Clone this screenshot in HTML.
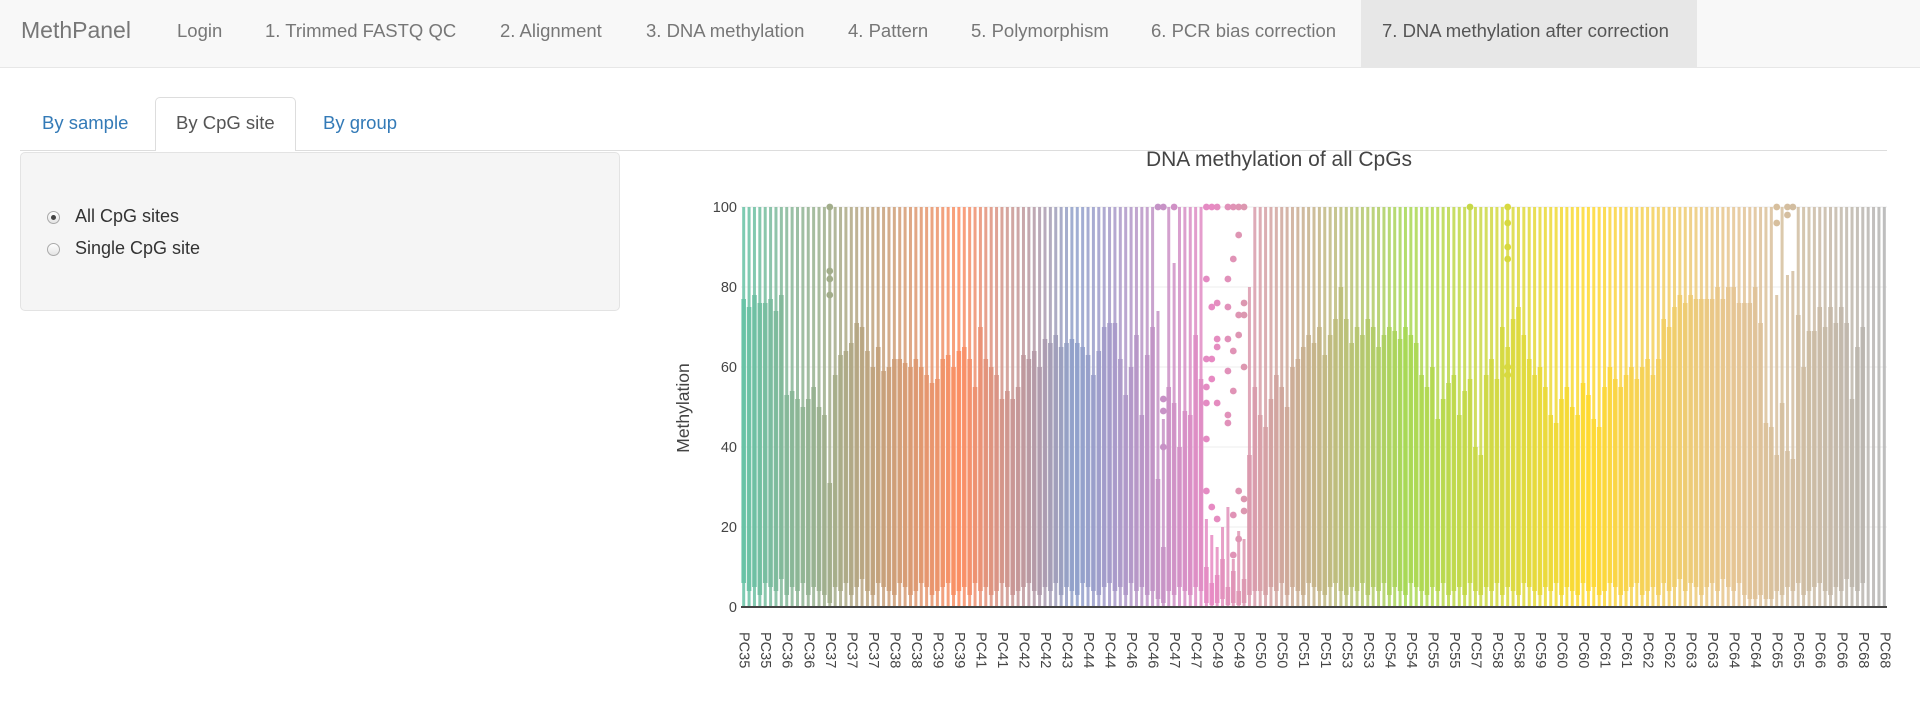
<!DOCTYPE html>
<html><head><meta charset="utf-8">
<style>
body{margin:0;width:1920px;height:702px;overflow:hidden;background:#fff;font-family:"Liberation Sans",Arial,sans-serif;position:relative}
.nav{position:absolute;left:0;top:0;width:1920px;height:67px;background:#f8f8f8;border-bottom:1px solid #e7e7e7}
.nav span{position:absolute;top:20px;font-size:18.5px;color:#777;white-space:nowrap}
.brand{font-size:23px!important;top:17px!important}
.active{position:absolute;left:1361px;top:0;width:336px;height:67px;background:#e7e7e7}
.tabline{position:absolute;left:20px;top:150px;width:1867px;height:1px;background:#ddd}
.tab{position:absolute;top:112px;font-size:18.5px;color:#337ab7}
.tabact{position:absolute;left:155px;top:97px;width:141px;height:54px;background:#fff;border:1px solid #ddd;border-bottom:none;border-radius:5px 5px 0 0;box-sizing:border-box}
.well{position:absolute;left:20px;top:152px;width:600px;height:159px;background:#f5f5f5;border:1px solid #e3e3e3;border-radius:5px;box-sizing:border-box}
.radio{position:absolute;width:13px;height:13px;border-radius:50%;border:1px solid #aaa;background:linear-gradient(#fff,#e4e4e4);box-sizing:border-box}
.rlabel{position:absolute;font-size:18px;color:#333}
</style></head><body>
<div class="nav">
<div class="active"></div>
<span class="brand" style="left:21px">MethPanel</span>
<span style="left:177px">Login</span>
<span style="left:265px">1. Trimmed FASTQ QC</span>
<span style="left:500px">2. Alignment</span>
<span style="left:646px">3. DNA methylation</span>
<span style="left:848px">4. Pattern</span>
<span style="left:971px">5. Polymorphism</span>
<span style="left:1151px">6. PCR bias correction</span>
<span style="left:1382px;color:#555">7. DNA methylation after correction</span>
</div>
<div class="tabline"></div>
<div class="tabact"></div>
<div class="tab" style="left:42px">By sample</div>
<div class="tab" style="left:176px;color:#555">By CpG site</div>
<div class="tab" style="left:323px">By group</div>
<div class="well"></div>
<div class="radio" style="left:47px;top:211px"><div style="position:absolute;left:3px;top:3px;width:5px;height:5px;border-radius:50%;background:#444"></div></div>
<div class="rlabel" style="left:75px;top:206px">All CpG sites</div>
<div class="radio" style="left:47px;top:243px"></div>
<div class="rlabel" style="left:75px;top:238px">Single CpG site</div>

<svg id="chart" width="1920" height="702" style="position:absolute;left:0;top:0"></svg>
<script>
const q3 = [77,75,78,76,76,77,74,78,53,54,52,50,52,55,50,48,31,58,63,64,
66,71,70,64,60,65,59,60,62,62,61,60,62,60,58,56,57,62,63,60,
64,65,62,55,70,62,60,58,52,54,52,55,63,62,64,60,67,66,68,65,
66,67,66,65,63,58,64,70,71,
71,62,53,60,68,48,63,70,32,15,55,51,40,49,48,68,57,
10,6,8,12,5,9,4,7,38,55,
48,45,52,58,55,50,60,62,65,68,66,70,63,68,72,80,72,66,70,68,
72,70,65,68,70,69,67,70,68,66,58,55,60,47,52,56,58,48,54,57,
40,38,58,62,57,70,65,72,75,68,62,58,60,55,48,46,52,55,50,48,
56,53,47,45,55,60,57,55,58,60,57,60,62,58,62,72,70,75,78,76,78,77,
77,77,77,80,77,80,80,76,76,76,80,71,46,45,38,51,39,37,73,60,69,69,75,70,75,71,75,71,52,65,70,71,69,72,72];
const q1 = [6,4,5,3,6,5,4,7,3,5,4,6,3,5,4,3,1,5,4,6,
3,5,7,4,3,6,5,4,3,6,5,3,4,6,5,3,4,5,6,3,
4,5,3,6,4,5,3,4,6,5,3,4,5,6,4,3,5,4,6,3,
5,4,3,6,5,4,3,5,6,
4,5,3,6,4,5,3,4,2,1,4,3,5,4,3,5,4,
1,0.5,1,2,0.5,1,0.5,1,3,4,
4,3,5,4,6,3,5,4,3,6,5,4,3,5,6,4,3,5,4,6,
3,5,4,6,3,5,4,3,6,5,4,3,5,4,6,3,4,5,3,6,
4,3,5,4,6,3,5,4,3,6,5,4,3,5,4,6,3,5,4,3,
6,4,5,3,4,6,5,3,4,5,6,3,4,5,3,6,4,5,
7,4,6,5,3,5,6,4,7,5,4,6,3,2,2,3,2,2,4,3,5,4,6,3,4,5,6,4,3,5,4,7,5,4,6];
const whiskerHiExceptions = {77:74,78:47,80:86,86:22,87:18,88:15,89:20,90:25,91:12,92:19,93:17,94:80,192:78,194:83,195:84};
const outliers = [[16,100],[16,84],[16,82],[16,78],[77,100],[78,100],[78,52],[78,49],[78,40],[80,100],
[86,100],[86,82],[86,62],[86,55],[86,51],[86,42],[86,29],
[87,100],[87,75],[87,62],[87,57],[87,25],
[88,100],[88,76],[88,67],[88,65],[88,51],[88,22],
[90,100],[90,82],[90,75],[90,67],[90,59],[90,48],[90,46],
[91,100],[91,87],[91,64],[91,54],[91,23],[91,13],
[92,100],[92,93],[92,73],[92,68],[92,29],[92,17],
[93,100],[93,76],[93,73],[93,60],[93,27],[93,24],
[135,100],[142,100],[142,96],[142,90],[142,87],[142,60],[142,58],
[192,100],[192,96],[194,100],[194,98],[195,100]];
const tickLabels = ["PC35","PC35","PC36","PC36","PC37","PC37","PC37","PC38","PC38","PC39","PC39","PC41","PC41","PC42","PC42","PC43","PC44","PC44","PC46","PC46","PC47","PC47","PC49","PC49","PC50","PC50","PC51","PC51","PC53","PC53","PC54","PC54","PC55","PC55","PC57","PC58","PC58","PC59","PC60","PC60","PC61","PC61","PC62","PC62","PC63","PC63","PC64","PC64","PC65","PC65","PC66","PC66","PC68","PC68"];
const yTicks = [0,20,40,60,80,100];
const tickEvery = 4;

const NS = "http://www.w3.org/2000/svg";
const svg = document.getElementById('chart');
const X0 = 741, X1 = 1887, Y0 = 607, Y100 = 207;
const N = q3.length, slot = (X1 - X0) / N;
const xc = i => X0 + (i + 0.5) * slot;
const y = v => Y0 - (v / 100) * (Y0 - Y100);
const stops = [[0,[102,194,165]],[0.19,[252,141,98]],[0.29,[141,160,203]],[0.41,[231,138,195]],[0.58,[166,216,84]],[0.74,[255,217,47]],[0.87,[229,196,148]],[1,[179,179,179]]];
function color(t){
  for(let k=0;k<stops.length-1;k++){
    const a=stops[k],b=stops[k+1];
    if(t<=b[0]){const f=(t-a[0])/(b[0]-a[0]);return 'rgb('+a[1].map((c,j)=>Math.round(c+(b[1][j]-c)*f)).join(',')+')';}
  }
  return 'rgb(179,179,179)';
}
function mk(tag, attrs){const e=document.createElementNS(NS,tag);for(const k in attrs)e.setAttribute(k,attrs[k]);svg.appendChild(e);return e;}

yTicks.forEach(v=>{
  if(v>0){const g=mk('line',{x1:X0,x2:X1,y1:y(v),y2:y(v),stroke:'#eee','stroke-width':1});
  
  }
  const t=mk('text',{x:737,y:y(v)+5,'text-anchor':'end','font-size':'14.5','fill':'#444','font-family':'Liberation Sans, sans-serif'});
  t.textContent=v;
  
  
});

for(let i=0;i<N;i++){
  const c=color(i/(N-1));
  const hi = (i in whiskerHiExceptions) ? whiskerHiExceptions[i] : 100;
  const w=mk('rect',{x:xc(i)-1.5,y:y(hi),width:3,height:y(0)-y(hi),fill:c,opacity:0.85});
  
  
  const b=mk('rect',{x:xc(i)-slot/2+0.4,y:y(q3[i]),width:slot-0.8,height:y(q1[i])-y(q3[i]),fill:c,opacity:0.92});
  
  
}
outliers.forEach(([i,v])=>{
  const p=mk('circle',{cx:xc(i),cy:y(v),r:3.4,fill:color(i/(N-1))});
  
  
});
const ax=mk('line',{x1:X0,x2:X1,y1:Y0,y2:Y0,stroke:'#444','stroke-width':2});



tickLabels.forEach((lab,k)=>{
  const cx=xc(k*tickEvery);
  const t=mk('text',{x:cx,y:632,transform:'rotate(90 '+cx+' 632)','font-size':'14.5','fill':'#444','dominant-baseline':'central','font-family':'Liberation Sans, sans-serif'});
  t.textContent=lab;
  
  
});

const title=mk('text',{x:1279,y:166,'text-anchor':'middle','font-size':'21','fill':'#444','font-family':'Liberation Sans, sans-serif'});
title.textContent='DNA methylation of all CpGs';


const yt=mk('text',{x:689,y:408,'text-anchor':'middle',transform:'rotate(-90 689 408)','font-size':'17.5','fill':'#444','font-family':'Liberation Sans, sans-serif'});
yt.textContent='Methylation';


</script>
</body></html>
